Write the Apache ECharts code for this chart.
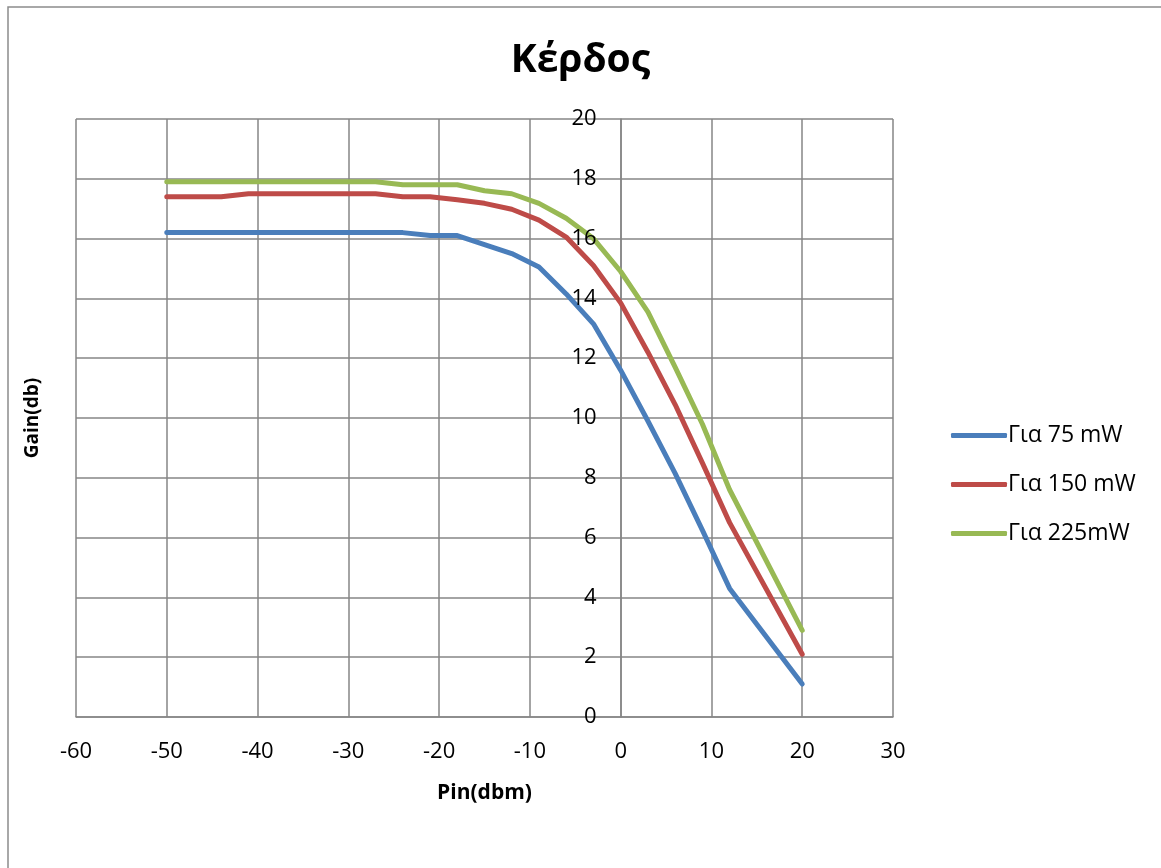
<!DOCTYPE html>
<html>
<head>
<meta charset="utf-8">
<script src="https://cdn.jsdelivr.net/npm/echarts@6/dist/echarts.min.js"></script>
<style>
  html, body { margin: 0; padding: 0; background: #fff; }
  #chart { width: 1161px; height: 868px; }
</style>
</head>
<body>
<div id="chart"></div>
<script>
// Pin (dbm) values
const pin = [-50, -44, -41, -27, -24, -21, -18, -15, -12, -9, -6, -3, 0, 3, 6, 9, 12, 20]

// Gain (db) per pump power
const gain75 = [16.2, 16.2, 16.2, 16.2, 16.2, 16.1, 16.1, 15.8, 15.5, 15.05, 14.15, 13.15, 11.6, 9.9, 8.15, 6.25, 4.3, 1.1]
const gain150 = [17.4, 17.4, 17.5, 17.5, 17.4, 17.4, 17.3, 17.18, 16.98, 16.62, 16.05, 15.1, 13.85, 12.2, 10.45, 8.5, 6.5, 2.1]
const gain225 = [17.9, 17.9, 17.9, 17.9, 17.8, 17.8, 17.8, 17.6, 17.5, 17.18, 16.68, 16.0, 14.9, 13.55, 11.7, 9.8, 7.6, 2.9]

const seriesNames = ['Για 75 mW', 'Για 150 mW', 'Για 225mW']
const seriesColors = ['#4A7EBB', '#BE4B48', '#98B954']

const font = '"Open Sans", "DejaVu Sans", sans-serif'

// plot box, the y axis crosses at Pin = 0
const gridLeft = 76
const gridRight = 268
const xMin = -60
const xMax = 30
const plotWidth = 1161 - gridLeft - gridRight
const yAxisOffset = -plotWidth * (0 - xMin) / (xMax - xMin)

const makeSeries = (name, ys, color) => ({
  name: name,
  type: 'line',
  symbol: 'none',
  yAxisIndex: 0,
  data: pin.map((x, i) => [x, ys[i]]),
  lineStyle: { width: 5, color: color, cap: 'round', join: 'round' },
  itemStyle: { color: color }
})

const myChart = echarts.init(document.getElementById('chart'))

myChart.setOption({
  animation: false,
  title: {
    text: 'Κέρδος',
    left: 'center',
    top: 36,
    textStyle: { fontFamily: font, fontSize: 39, fontWeight: 'bold', color: '#000' }
  },
  graphic: [
    {
      type: 'rect',
      shape: { x: 8, y: 7, width: 1170, height: 880 },
      style: { fill: null, stroke: '#8c8c8c', lineWidth: 1.5 },
      silent: true
    }
  ],
  legend: {
    orient: 'vertical',
    left: 946,
    top: 419,
    icon: 'roundRect',
    itemWidth: 56,
    itemHeight: 5,
    itemGap: 26,
    textStyle: { fontFamily: font, fontSize: 23, color: '#000', padding: [0, 0, 0, -4] },
    data: seriesNames
  },
  grid: {
    left: gridLeft,
    right: gridRight,
    top: 119,
    bottom: 151,
    outerBoundsMode: 'none'
  },
  xAxis: {
    type: 'value',
    min: xMin,
    max: xMax,
    interval: 10,
    name: 'Pin(dbm)',
    nameLocation: 'middle',
    nameGap: 66,
    nameTextStyle: { fontFamily: font, fontSize: 21, fontWeight: 'bold', color: '#000' },
    axisLine: { onZero: false, lineStyle: { color: '#868686', width: 1.5 } },
    axisTick: { show: false },
    axisLabel: { fontFamily: font, fontSize: 22, color: '#000', margin: 24 },
    splitLine: { show: true, lineStyle: { color: '#868686', width: 1.5 } }
  },
  yAxis: [
    {
      // grid lines and the axis line, under the curves
      type: 'value',
      min: 0,
      max: 20,
      interval: 2,
      position: 'left',
      offset: yAxisOffset,
      name: 'Gain(db)',
      nameLocation: 'middle',
      nameGap: 579,
      nameTextStyle: { fontFamily: font, fontSize: 19, fontWeight: 'bold', color: '#000' },
      axisLine: { show: true, onZero: false, lineStyle: { color: '#868686', width: 1.5 } },
      axisTick: { show: false },
      axisLabel: { show: false },
      splitLine: { show: true, lineStyle: { color: '#868686', width: 1.5 } }
    },
    {
      // tick labels, drawn above the curves
      type: 'value',
      min: 0,
      max: 20,
      interval: 2,
      position: 'left',
      offset: yAxisOffset,
      z: 5,
      axisLine: { show: false },
      axisTick: { show: false },
      axisLabel: { fontFamily: font, fontSize: 22, color: '#000', margin: 24 },
      splitLine: { show: false }
    }
  ],
  series: [
    makeSeries(seriesNames[0], gain75, seriesColors[0]),
    makeSeries(seriesNames[1], gain150, seriesColors[1]),
    makeSeries(seriesNames[2], gain225, seriesColors[2])
  ]
})
</script>
</body>
</html>
